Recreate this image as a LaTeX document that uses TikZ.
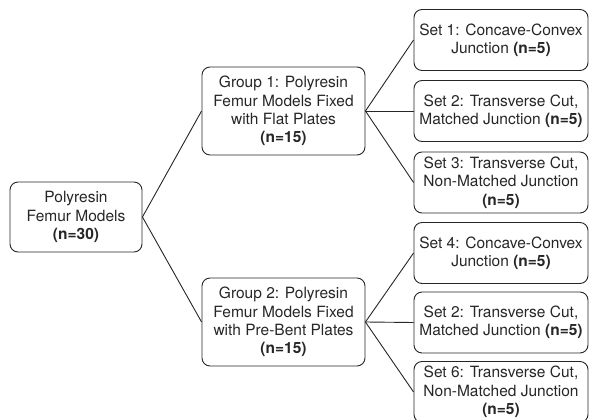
\documentclass[tikz,border=0pt]{standalone}
\usepackage{fontspec}
\setmainfont{TeX Gyre Heros}
\begin{document}
\begin{tikzpicture}[x=1pt,y=-1pt,
  box/.style={draw=black!85, line width=0.9pt, rounded corners=8pt, align=center,
    font=\fontsize{15.5}{18.3}\selectfont, text=black!85, inner sep=0pt},
  setbox/.style={box, minimum width=174pt, minimum height=61pt},
  grpbox/.style={box, minimum width=163pt, minimum height=88pt},
  link/.style={draw=black!85, line width=0.9pt}]
\useasboundingbox (0,0) rectangle (590,420);
\node[box, minimum width=132pt, minimum height=70pt] (root) at (76,217)
  {Polyresin\\Femur Models\\\textbf{(n=30)}};
\node[grpbox] (g1) at (283.5,111)
  {Group 1: Polyresin\\Femur Models Fixed\\with Flat Plates\\\textbf{(n=15)}};
\node[grpbox] (g2) at (283.5,322)
  {Group 2: Polyresin\\Femur Models Fixed\\with Pre-Bent Plates\\\textbf{(n=15)}};
\node[setbox] (s1) at (501,40) {Set 1: Concave-Convex\\Junction \textbf{(n=5)}};
\node[setbox] (s2) at (501,111) {Set 2: Transverse Cut,\\Matched Junction \textbf{(n=5)}};
\node[setbox] (s3) at (501,182.5) {Set 3: Transverse Cut,\\Non-Matched Junction\\\textbf{(n=5)}};
\node[setbox] (s4) at (501,253) {Set 4: Concave-Convex\\Junction \textbf{(n=5)}};
\node[setbox] (s5) at (501,322.5) {Set 2: Transverse Cut,\\Matched Junction \textbf{(n=5)}};
\node[setbox] (s6) at (501,392) {Set 6: Transverse Cut,\\Non-Matched Junction\\\textbf{(n=5)}};
\draw[link] (root.east) -- (g1.west);
\draw[link] (root.east) -- (g2.west);
\draw[link] (g1.east) -- (s1.west);
\draw[link] (g1.east) -- (s2.west);
\draw[link] (g1.east) -- (s3.west);
\draw[link] (g2.east) -- (s4.west);
\draw[link] (g2.east) -- (s5.west);
\draw[link] (g2.east) -- (s6.west);
\end{tikzpicture}
\end{document}
